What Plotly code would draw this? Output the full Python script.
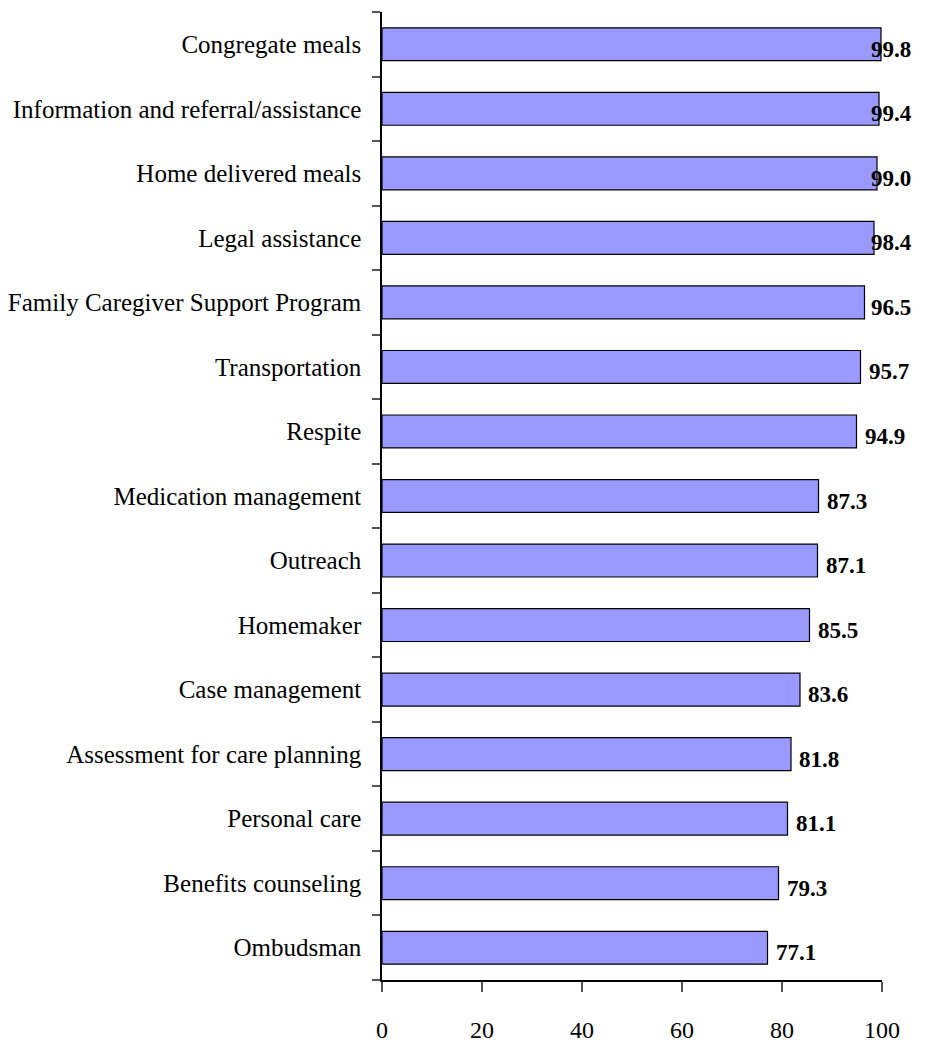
import plotly.graph_objects as go

categories = ["Congregate meals", "Information and referral/assistance", "Home delivered meals",
              "Legal assistance", "Family Caregiver Support Program", "Transportation", "Respite",
              "Medication management", "Outreach", "Homemaker", "Case management",
              "Assessment for care planning", "Personal care", "Benefits counseling", "Ombudsman"]
values = [99.8, 99.4, 99.0, 98.4, 96.5, 95.7, 94.9, 87.3, 87.1, 85.5, 83.6, 81.8, 81.1, 79.3, 77.1]
x_ticks = [0, 20, 40, 60, 80, 100]

cats_rev = categories[::-1]
vals_rev = values[::-1]

fig = go.Figure()
fig.add_trace(go.Bar(
    y=cats_rev, x=vals_rev, orientation="h",
    marker=dict(color="#9999FF", line=dict(color="black", width=1.2)),
    hoverinfo="skip",
))

for c, v in zip(cats_rev, vals_rev):
    fig.add_annotation(
        x=min(v, 96.2), y=c, xref="x", yref="y",
        text="<b>%.1f</b>" % v, showarrow=False, xanchor="left", yanchor="middle",
        xshift=6, yshift=-5,
        font=dict(family="Liberation Serif", size=23, color="black"),
    )

fig.update_layout(
    width=931, height=1044,
    margin=dict(l=382, r=49, t=12, b=64),
    paper_bgcolor="white", plot_bgcolor="white",
    bargap=0.49,
    showlegend=False,
    font=dict(family="Liberation Serif", size=22, color="black"),
)
fig.update_xaxes(
    range=[0, 100], tickvals=x_ticks, showgrid=False, zeroline=False,
    showline=True, linecolor="black", linewidth=1.5, automargin=False,
    ticks="outside", ticklen=10, tickcolor="#555", tickwidth=1.5,
    ticklabelstandoff=17, tickfont=dict(size=24),
)
fig.update_yaxes(
    categoryorder="array", categoryarray=cats_rev, automargin=False,
    showgrid=False, zeroline=False,
    showline=True, linecolor="black", linewidth=1.5,
    ticks="outside", ticklen=8, tickcolor="#555", tickwidth=1.5,
    tickson="boundaries", ticklabelstandoff=14, tickfont=dict(size=25),
)

fig.write_html("out.html", config={"displayModeBar": False},
               post_script="document.body.style.margin='0';")
